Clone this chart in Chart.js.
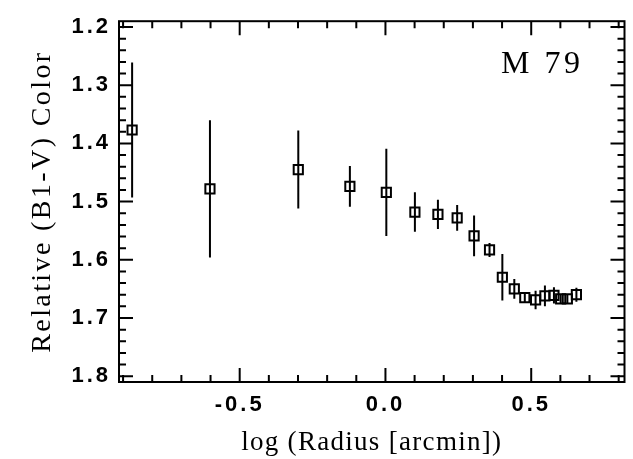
<!DOCTYPE html>
<html><head><meta charset="utf-8">
<script src="https://cdn.jsdelivr.net/npm/chart.js@4"></script>
<style>html,body{margin:0;padding:0;background:#fff}canvas{display:block}</style>
</head><body>
<canvas id="c" width="633" height="459"></canvas>
<script>
// ---- data ----
const radiusLog = [-0.869,-0.602,-0.299,-0.122,0.003,0.101,0.180,0.246,0.304,0.357,0.401,0.442,0.478,0.515,0.547,0.578,0.601,0.624,0.655];
const colorB1V  = [1.377,1.478,1.445,1.474,1.484,1.518,1.522,1.528,1.559,1.583,1.630,1.650,1.665,1.669,1.662,1.661,1.667,1.667,1.660];
const colorErr  = [0.116,0.118,0.067,0.035,0.075,0.034,0.025,0.022,0.035,0.012,0.040,0.017,0.008,0.016,0.018,0.014,0.008,0.008,0.012];
const xTickValues = [-0.5, 0, 0.5];
const xTickLabels = ['-0.5', '0.0', '0.5'];
const yTickValues = [1.2, 1.3, 1.4, 1.5, 1.6, 1.7, 1.8];
const yTickLabels = ['1.2', '1.3', '1.4', '1.5', '1.6', '1.7', '1.8'];
const clusterName = 'M 79';
const xTitle = 'log (Radius [arcmin])';
const yTitle = 'Relative (B1-V) Color';

const points = radiusLog.map((r, i) => ({x: r, y: colorB1V[i]}));

const spacingPlugin = {
  id: 'spacing',
  beforeInit(chart) {
    const ctx = chart.ctx;
    const orig = ctx.fillText;
    ctx.fillText = function (t, x, y, w) {
      const f = this.font;
      const m = this.getTransform();
      let s = '3px';
      if (/Serif/i.test(f)) {
        if (/32px/.test(f)) s = '3.5px';
        else if (Math.abs(m.b) > 0.5) s = '2.4px';
        else s = '1.3px';
      }
      this.letterSpacing = s;
      return w === undefined ? orig.call(this, t, x, y) : orig.call(this, t, x, y, w);
    };
  }
};

const errorBarPlugin = {
  id: 'errorBars',
  beforeDatasetsDraw(chart) {
    const {ctx, scales: {x, y}} = chart;
    ctx.save();
    ctx.strokeStyle = '#000';
    ctx.lineWidth = 2;
    ctx.beginPath();
    radiusLog.forEach((r, i) => {
      const px = x.getPixelForValue(r);
      ctx.moveTo(px, y.getPixelForValue(colorB1V[i] - colorErr[i]));
      ctx.lineTo(px, y.getPixelForValue(colorB1V[i] + colorErr[i]));
    });
    ctx.stroke();
    ctx.restore();
  }
};

const framePlugin = {
  id: 'frame',
  afterDraw(chart) {
    const {ctx, chartArea: a, scales: {x, y}} = chart;
    ctx.save();
    ctx.strokeStyle = '#000';
    ctx.lineWidth = 2;
    ctx.strokeRect(a.left, a.top, a.right - a.left, a.bottom - a.top);
    ctx.beginPath();
    for (let i = -9; i <= 8; i++) {
      const px = x.getPixelForValue(i / 10);
      const L = (i % 5 === 0) ? 14 : 7;
      ctx.moveTo(px, a.bottom); ctx.lineTo(px, a.bottom - L);
      ctx.moveTo(px, a.top); ctx.lineTo(px, a.top + L);
    }
    for (let j = 60; j <= 90; j++) {
      const py = y.getPixelForValue(j / 50);
      const L = (j % 5 === 0) ? 14 : 7;
      ctx.moveTo(a.left, py); ctx.lineTo(a.left + L, py);
      ctx.moveTo(a.right, py); ctx.lineTo(a.right - L, py);
    }
    ctx.stroke();
    ctx.font = '32px "Liberation Serif"';
    ctx.fillStyle = '#000';
    ctx.textAlign = 'left';
    ctx.textBaseline = 'alphabetic';
    ctx.fillText(clusterName, a.left + 382, a.top + 52);
    ctx.restore();
  }
};

Chart.defaults.color = '#000';
new Chart(document.getElementById('c'), {
  type: 'scatter',
  data: {
    datasets: [{
      data: points,
      pointStyle: 'rect',
      pointRadius: 6.5,
      pointBorderWidth: 2,
      borderColor: '#000',
      backgroundColor: 'rgba(0,0,0,0)',
      showLine: false
    }]
  },
  options: {
    responsive: false,
    animation: false,
    devicePixelRatio: 1,
    layout: {padding: {top: 14, right: 6, left: 0, bottom: 0}},
    plugins: {legend: {display: false}, tooltip: {enabled: false}},
    scales: {
      x: {
        type: 'linear', min: -0.914, max: 0.82,
        afterBuildTicks: s => { s.ticks = xTickValues.map(v => ({value: v})); },
        afterFit: s => { s.height = 77; },
        grid: {display: false, drawTicks: false},
        border: {display: false},
        ticks: {
          padding: 10,
          font: {family: 'Liberation Sans', size: 22, weight: 'bold'},
          callback: v => xTickLabels[xTickValues.indexOf(v)] ?? ''
        },
        title: {display: true, text: xTitle, font: {family: 'Liberation Serif', size: 27}, padding: {top: 0, bottom: 0}}
      },
      y: {
        type: 'linear', reverse: true, min: 1.19, max: 1.81,
        afterBuildTicks: s => { s.ticks = yTickValues.map(v => ({value: v})); },
        afterFit: s => { s.width = 119; },
        grid: {display: false, drawTicks: false},
        border: {display: false},
        ticks: {
          padding: 8,
          font: {family: 'Liberation Sans', size: 22, weight: 'bold'},
          callback: v => yTickLabels[yTickValues.findIndex(t => Math.abs(t - v) < 1e-9)] ?? ''
        },
        title: {display: true, text: yTitle, font: {family: 'Liberation Serif', size: 28}, padding: {top: 26, bottom: 0}}
      }
    }
  },
  plugins: [spacingPlugin, errorBarPlugin, framePlugin]
});
</script>
</body></html>
